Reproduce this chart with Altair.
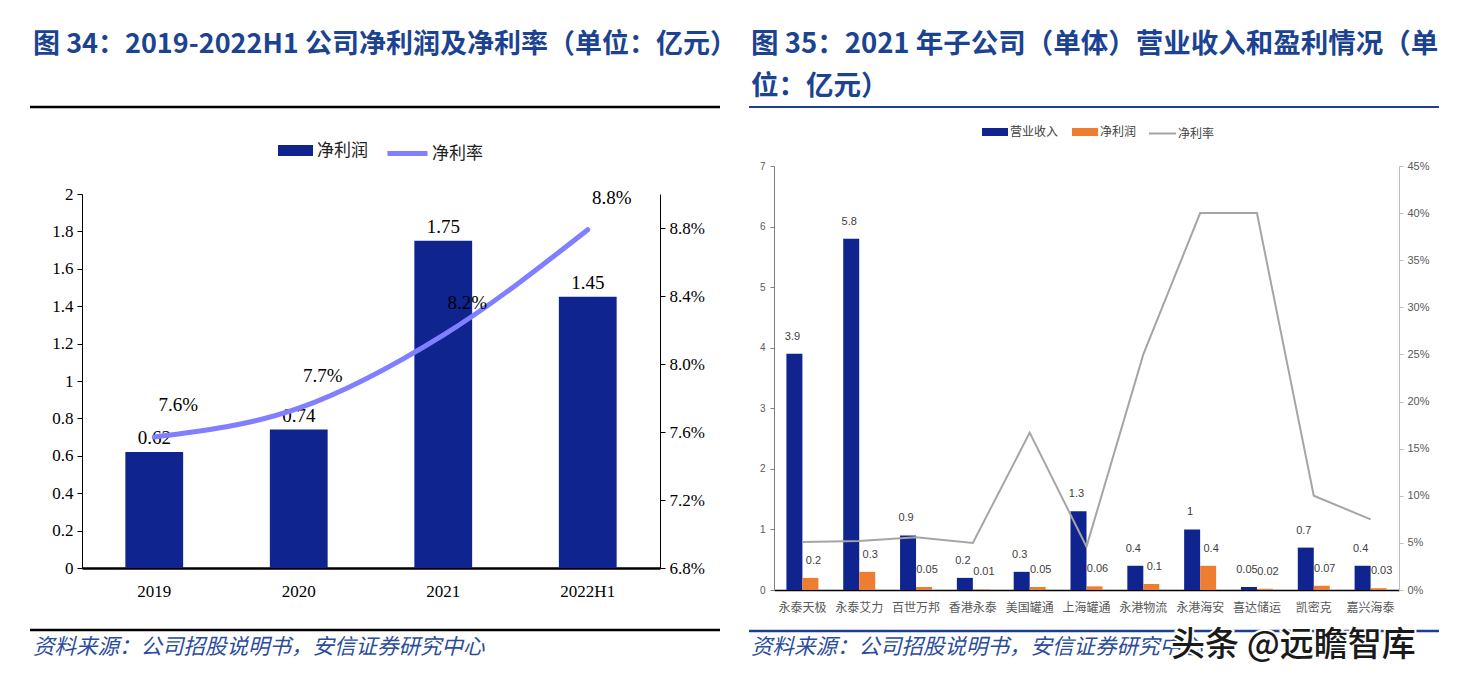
import altair as alt
import pandas as pd

# ---------------- data ----------------
YEARS = ["2019", "2020", "2021", "2022H1"]
NET_PROFIT = [0.62, 0.74, 1.75, 1.45]
NET_MARGIN = [7.57, 7.74, 8.17, 8.79]
MARGIN_LABELS = ["7.6%", "7.7%", "8.2%", "8.8%"]
LEFT_Y_TICKS = [0, 0.2, 0.4, 0.6, 0.8, 1, 1.2, 1.4, 1.6, 1.8, 2]
LEFT_R_TICKS = [6.8, 7.0, 7.2, 7.4, 7.6, 7.8, 8.0, 8.2, 8.4, 8.6, 8.8, 9.0]

COMPANIES = ["永泰天极", "永泰艾力", "百世万邦", "香港永泰", "美国罐通", "上海罐通",
             "永港物流", "永港海安", "喜达储运", "凯密克", "嘉兴海泰"]
REVENUE = [3.9, 5.8, 0.9, 0.2, 0.3, 1.3, 0.4, 1, 0.05, 0.7, 0.4]
SUB_PROFIT = [0.2, 0.3, 0.05, 0.01, 0.05, 0.06, 0.1, 0.4, 0.02, 0.07, 0.03]
SUB_MARGIN = [5.1, 5.2, 5.6, 5.0, 16.7, 4.6, 25, 40, 40, 10, 7.5]
RIGHT_Y_TICKS = [0, 1, 2, 3, 4, 5, 6, 7]
RIGHT_R_TICKS = [0, 5, 10, 15, 20, 25, 30, 35, 40, 45]
METRICS = ["营业收入", "净利润"]

TITLE_L = "图 34：2019-2022H1 公司净利润及净利率（单位：亿元）"
TITLE_R1 = "图 35：2021 年子公司（单体）营业收入和盈利情况（单"
TITLE_R2 = "位：亿元）"
SOURCE = "资料来源：公司招股说明书，安信证券研究中心"
WATERMARK = "头条 @远瞻智库"

# ---------------- styles ----------------
NAVY = "#0f248f"
ORANGE = "#ed7d31"
GRAY_LINE = "#a5a5a5"
PURPLE = "#7f7fff"
TITLE_BLUE = "#1b4391"
SRC_BLUE = "#2b4c9b"
CJK = "Noto Sans CJK SC"
SERIF = "Liberation Serif"
SANS = "Liberation Sans"

one = pd.DataFrame({"k": [0]})


def text_deco(txt, x, y, size, color, weight="normal", style="normal", font=CJK):
    return alt.Chart(one).mark_text(
        text=txt, align="left", baseline="middle", font=font, fontSize=size,
        fontWeight=weight, fontStyle=style, color=color
    ).encode(x=alt.value(x), y=alt.value(y))


def hrule(x1, x2, y, color, w=2):
    return alt.Chart(one).mark_rule(color=color, strokeWidth=w).encode(
        x=alt.value(x1), x2=alt.value(x2), y=alt.value(y))


def marker(x, y):
    return alt.Chart(one).mark_rule(strokeOpacity=0, strokeWidth=1).encode(
        x=alt.value(x), x2=alt.value(x + 1), y=alt.value(y))


# ---------------- left panel (plot origin shared with right panel) ----------------
W1, H1 = 578, 424
Y_RANGE_L = [402, 28]
left_df = pd.DataFrame({
    "year": YEARS, "profit": NET_PROFIT, "margin": NET_MARGIN,
    "mlabel": MARGIN_LABELS, "s_bar": ["净利润"] * 4, "s_line": ["净利率"] * 4,
})

xL = alt.X("year:N", sort=YEARS,
           scale=alt.Scale(paddingInner=0.6, paddingOuter=0.3),
           axis=alt.Axis(title=None, labelAngle=0, ticks=False, domainColor="#000",
                         domainWidth=2.5, labelFont=SERIF, labelFontSize=17,
                         labelColor="#000", labelPadding=15, offset=-22))

bars_l = alt.Chart(left_df).mark_bar().encode(
    x=xL,
    y=alt.Y("profit:Q", scale=alt.Scale(domain=[0, 2], nice=False, range=Y_RANGE_L),
            axis=alt.Axis(title=None, values=LEFT_Y_TICKS, format="~g", grid=False,
                          labelOverlap=False,
                          domainColor="#000", tickColor="#000", tickSize=5,
                          labelFont=SERIF, labelFontSize=17, labelColor="#000",
                          labelPadding=4)),
    fill=alt.Fill("s_bar:N", scale=alt.Scale(domain=["净利润"], range=[NAVY]),
                  legend=alt.Legend(title=None, orient="none", legendX=196, legendY=-33,
                                    padding=0, symbolType="M-1,-0.314H1V0.314H-1Z",
                                    symbolSize=1225, symbolStrokeWidth=0,
                                    labelFont=CJK, labelFontSize=17, labelColor="#222",
                                    labelOffset=4, direction="horizontal")),
)
bar_lbl_l = alt.Chart(left_df).mark_text(dy=-14, font=SERIF, fontSize=19, color="#000").encode(
    x=alt.X("year:N", sort=YEARS), y="profit:Q",
    text=alt.Text("profit:Q", format="~g"))

line_l = alt.Chart(left_df).mark_line(strokeWidth=5, interpolate="monotone", strokeCap="round").encode(
    x=alt.X("year:N", sort=YEARS),
    y=alt.Y("margin:Q", scale=alt.Scale(domain=[6.8, 9.0], nice=False, zero=False, range=Y_RANGE_L),
            axis=alt.Axis(title=None, orient="right", values=LEFT_R_TICKS, grid=False,
                          labelOverlap=False,
                          labelExpr="format(datum.value, '.1f') + '%'",
                          domainColor="#000", tickColor="#000", tickSize=5,
                          labelFont=SERIF, labelFontSize=17, labelColor="#000",
                          labelPadding=4)),
    stroke=alt.Stroke("s_line:N", scale=alt.Scale(domain=["净利率"], range=[PURPLE]),
                      legend=alt.Legend(title=None, orient="none", legendX=303, legendY=-35,
                                        padding=0, symbolType="stroke", symbolSize=1600,
                                        symbolStrokeWidth=5,
                                        labelFont=CJK, labelFontSize=17, labelColor="#222",
                                        labelOffset=2, direction="horizontal")),
)
line_lbl_l = alt.Chart(left_df).mark_text(dx=24, dy=-32, font=SERIF, fontSize=19, color="#000").encode(
    x=alt.X("year:N", sort=YEARS), y="margin:Q", text="mlabel:N")

left = alt.layer(
    alt.layer(bars_l, bar_lbl_l),
    alt.layer(line_l, line_lbl_l),
    marker(-74, -158),
    marker(647, -158),
    text_deco(TITLE_L, -49, -121, 27, TITLE_BLUE, weight="bold"),
    hrule(-52, 638, -59, "#000", 2.5),
    hrule(-52, 638, 464, "#000", 2.5),
    text_deco(SOURCE, -49, 482, 21.5, SRC_BLUE, style="italic"),
).resolve_scale(y="independent").properties(width=W1, height=H1)

# ---------------- right panel ----------------
W2, H2 = 625, 424
rows = []
for c, r, p in zip(COMPANIES, REVENUE, SUB_PROFIT):
    rows.append({"company": c, "metric": "营业收入", "value": r})
    rows.append({"company": c, "metric": "净利润", "value": p})
right_long = pd.DataFrame(rows)
right_margin = pd.DataFrame({"company": COMPANIES, "margin": SUB_MARGIN,
                             "s_line": ["净利率"] * len(COMPANIES)})

xR = alt.X("company:N", sort=COMPANIES,
           scale=alt.Scale(paddingInner=0.437, paddingOuter=0.2185),
           axis=alt.Axis(title=None, labelAngle=0, ticks=False, domainColor="#000",
                         domainWidth=1.5, labelFont=CJK, labelFontSize=12,
                         labelColor="#595959", labelPadding=12))
xoff = alt.XOffset("metric:N", sort=METRICS,
                   scale=alt.Scale(domain=METRICS, paddingInner=0, paddingOuter=0))

bars_r = alt.Chart(right_long).mark_bar().encode(
    x=xR, xOffset=xoff,
    y=alt.Y("value:Q", scale=alt.Scale(domain=[0, 7], nice=False),
            axis=alt.Axis(title=None, values=RIGHT_Y_TICKS, format="~g", grid=False,
                          labelOverlap=False,
                          domainColor="#7f7f7f", tickColor="#7f7f7f", tickSize=4,
                          labelFont=SANS, labelFontSize=10, labelColor="#595959",
                          labelPadding=5)),
    fill=alt.Fill("metric:N", scale=alt.Scale(domain=METRICS, range=[NAVY, ORANGE]),
                  legend=alt.Legend(title=None, orient="none", legendX=208, legendY=-47,
                                    padding=0, symbolType="M-1,-0.31H1V0.31H-1Z",
                                    symbolSize=676, symbolStrokeWidth=0,
                                    labelFont=CJK, labelFontSize=12, labelColor="#404040",
                                    labelOffset=2, columnPadding=13,
                                    direction="horizontal")),
)
rev_lbl = alt.Chart(right_long).transform_filter(alt.datum.metric == "营业收入").mark_text(
    dy=-17, dx=-2, font=SANS, fontSize=11, color="#404040").encode(
    x=alt.X("company:N", sort=COMPANIES), xOffset=alt.XOffset("metric:N", sort=METRICS),
    y="value:Q", text=alt.Text("value:Q", format="~g"))
pro_lbl = alt.Chart(right_long).transform_filter(alt.datum.metric == "净利润").mark_text(
    dy=-17, dx=3, font=SANS, fontSize=11, color="#404040").encode(
    x=alt.X("company:N", sort=COMPANIES), xOffset=alt.XOffset("metric:N", sort=METRICS),
    y="value:Q", text=alt.Text("value:Q", format="~g"))

line_r = alt.Chart(right_margin).mark_line(strokeWidth=2, color=GRAY_LINE).encode(
    x=alt.X("company:N", sort=COMPANIES),
    y=alt.Y("margin:Q", scale=alt.Scale(domain=[0, 45], nice=False),
            axis=alt.Axis(title=None, orient="right", values=RIGHT_R_TICKS, grid=False,
                          labelOverlap=False,
                          labelExpr="datum.value + '%'",
                          domainColor="#bfbfbf", tickColor="#bfbfbf", tickSize=4,
                          labelFont=SANS, labelFontSize=11, labelColor="#595959",
                          labelPadding=4)),
    stroke=alt.Stroke("s_line:N", scale=alt.Scale(domain=["净利率"], range=[GRAY_LINE]),
                      legend=alt.Legend(title=None, orient="none", legendX=374, legendY=-47,
                                        padding=0, symbolType="stroke", symbolSize=729,
                                        symbolStrokeWidth=2,
                                        labelFont=CJK, labelFontSize=12, labelColor="#404040",
                                        labelOffset=1, direction="horizontal")),
)

wm_halo = alt.Chart(one).mark_text(
    text=WATERMARK, align="left", baseline="middle", font=CJK, fontSize=34,
    fontWeight=500, color="#ffffff", stroke="#ffffff", strokeWidth=4
).encode(x=alt.value(397), y=alt.value(480))
wm = text_deco(WATERMARK, 397, 480, 34, "#1a1a1a", weight=500)

right = alt.layer(
    alt.layer(bars_r, rev_lbl, pro_lbl),
    line_r,
    marker(-35, -158),
    text_deco(TITLE_R1, -23, -121, 27.5, TITLE_BLUE, weight="bold"),
    text_deco(TITLE_R2, -23, -79, 27.5, TITLE_BLUE, weight="bold"),
    hrule(-25, 665, -59, "#1c3f94", 2),
    hrule(-25, 665, 465, "#1c3f94", 2.5),
    text_deco(SOURCE, -23, 482, 21.5, SRC_BLUE, style="italic"),
    wm_halo,
    wm,
).resolve_scale(y="independent").properties(width=W2, height=H2)

chart = alt.hconcat(left, right, spacing=2).resolve_scale(
    fill="independent", stroke="independent", x="independent", y="independent"
).properties(padding=0, background="white").configure_view(stroke=None)

chart.save("out.html", embed_options={"renderer": "svg", "actions": False})
